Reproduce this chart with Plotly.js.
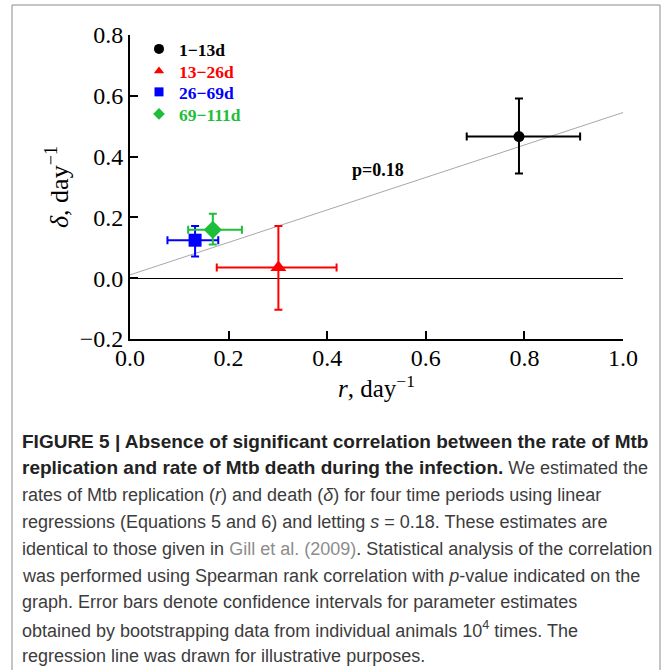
<!DOCTYPE html>
<html><head><meta charset="utf-8">
<script src="https://cdn.plot.ly/plotly-3.0.1.min.js"></script>
<style>html,body{margin:0;padding:0;background:#fff}</style>
</head><body><div id="chart" style="width:665px;height:670px"></div>
<script>
// ---- data ----
const seriesNames = ['1−13d', '13−26d', '26−69d', '69−111d'];
const seriesColors = ['#000000', '#ff0000', '#0000ff', '#1fbe3a'];
const seriesSymbols = ['circle', 'triangle-up', 'square', 'diamond'];
const rValues = [0.789, 0.301, 0.132, 0.168];
const deltaValues = [0.466, 0.035, 0.125, 0.159];
const rErrPlus = [0.124, 0.118, 0.047, 0.059];
const rErrMinus = [0.106, 0.125, 0.056, 0.050];
const deltaErrPlus = [0.125, 0.137, 0.047, 0.053];
const deltaErrMinus = [0.122, 0.139, 0.054, 0.048];
const regressionX = [0, 1];
const regressionIntercept = 0.011;
const regressionSlope = 0.534;
const pValueText = 'p=0.18';
const pValuePos = [0.503, 0.357];
const xTickVals = [0, 0.2, 0.4, 0.6, 0.8, 1.0];
const yTickVals = [-0.2, 0, 0.2, 0.4, 0.6, 0.8];
const B = s => '<span style="font-size:19px;color:#222"><b>' + s + '</b></span>';
const captionLines = [
  B('FIGURE 5 | Absence of significant correlation between the rate of Mtb'),
  B('replication and rate of Mtb death during the infection.') + ' We estimated the',
  'rates of Mtb replication (<i>r</i>) and death (<i>δ</i>) for four time periods using linear',
  'regressions (Equations 5 and 6) and letting <i>s</i> = 0.18. These estimates are',
  'identical to those given in <span style="color:#8c8c8c">Gill et al. (2009)</span>. Statistical analysis of the correlation',
  'was performed using Spearman rank correlation with <i>p</i>-value indicated on the',
  'graph. Error bars denote confidence intervals for parameter estimates',
  'obtained by bootstrapping data from individual animals 10<sup>4</sup> times. The',
  'regression line was drawn for illustrative purposes.'
];

// ---- layout geometry (pixels) ----
const W = 665, H = 670;
const M = {l: 130, r: 42, t: 35, b: 331};
const PW = W - M.l - M.r, PH = H - M.t - M.b;
const px2x = px => (px - M.l) / PW;
const px2y = py => (H - M.b - py) / PH;

const serif = 'Liberation Serif, Times New Roman, serif';
const sans = 'Liberation Sans, Arial, sans-serif';

const traces = [];
// regression line
traces.push({
  x: regressionX,
  y: regressionX.map(v => regressionIntercept + regressionSlope * v),
  mode: 'lines', line: {color: '#a8a8a8', width: 1},
  showlegend: false, hoverinfo: 'skip'
});
// data points with error bars
seriesNames.forEach((name, i) => {
  traces.push({
    x: [rValues[i]], y: [deltaValues[i]],
    mode: 'markers', showlegend: false,
    marker: {symbol: seriesSymbols[i], color: seriesColors[i],
             size: [11, 14, 13, 14][i], line: {width: 0}},
    error_x: {type: 'data', symmetric: false, array: [rErrPlus[i]], arrayminus: [rErrMinus[i]],
              color: seriesColors[i], thickness: 2, width: 4},
    error_y: {type: 'data', symmetric: false, array: [deltaErrPlus[i]], arrayminus: [deltaErrMinus[i]],
              color: seriesColors[i], thickness: 2, width: 4}
  });
});
// legend entries (one small legend per entry so rows sit where the reference puts them)
const legendIds = ['legend', 'legend2', 'legend3', 'legend4'];
const legendRowsPx = [49, 71, 92, 114];
seriesNames.forEach((name, i) => {
  traces.push({
    x: [null], y: [null], mode: 'markers', legend: legendIds[i],
    name: '<span style="color:' + seriesColors[i] + '"><b>' + name + '</b></span>',
    marker: {symbol: seriesSymbols[i], color: seriesColors[i], size: [10, 9, 9, 9][i]}
  });
});

const annotations = [{
  x: pValuePos[0], y: pValuePos[1], xref: 'x', yref: 'y', text: '<b>' + pValueText + '</b>',
  showarrow: false, font: {family: serif, size: 18, color: '#000'}
}];
captionLines.forEach((t, i) => {
  annotations.push({
    x: px2x(20), y: px2y(441 + i * 26.9), xref: 'paper', yref: 'paper',
    xanchor: 'left', yanchor: 'middle', text: t, showarrow: false,
    font: {family: sans, size: 18, color: '#3c3c3c'}
  });
});

const layout = {
  width: W, height: H, margin: M,
  paper_bgcolor: '#ffffff', plot_bgcolor: '#ffffff',
  showlegend: true,
  xaxis: {
    range: [0, 1], tickvals: xTickVals, tickformat: '.1f',
    ticks: 'inside', ticklen: 8, tickwidth: 2, tickcolor: '#000', ticklabelstandoff: -4,
    showline: true, linewidth: 2, linecolor: '#000', showgrid: false, zeroline: false,
    tickfont: {family: serif, size: 24, color: '#000'},
    title: {text: '<i>r</i>, day<sup>−1</sup>', font: {family: serif, size: 25, color: '#000'}, standoff: 0}
  },
  yaxis: {
    range: [-0.2, 0.8], tickvals: yTickVals, tickformat: '.1f',
    ticks: 'inside', ticklen: 8, tickwidth: 2, tickcolor: '#000',
    showline: true, linewidth: 2, linecolor: '#000', showgrid: false,
    zeroline: true, zerolinecolor: '#000', zerolinewidth: 1,
    tickfont: {family: serif, size: 24, color: '#000'},
    title: {text: '<i>δ</i>, day<sup>−1</sup>', font: {family: serif, size: 26, color: '#000'}, standoff: 4}
  },
  annotations: annotations,
  shapes: [{
    type: 'rect', xref: 'paper', yref: 'paper',
    x0: px2x(12), x1: px2x(660), y0: px2y(700), y1: px2y(5),
    line: {color: '#8a8a8a', width: 1}, fillcolor: 'rgba(0,0,0,0)', layer: 'below'
  }]
};
legendIds.forEach((id, i) => {
  layout[id] = {
    x: px2x(139), y: px2y(legendRowsPx[i]), xanchor: 'left', yanchor: 'middle',
    bgcolor: 'rgba(0,0,0,0)', borderwidth: 0, font: {family: serif, size: 17.5}
  };
});

Plotly.newPlot('chart', traces, layout, {displayModeBar: false, staticPlot: true});
</script></body></html>
